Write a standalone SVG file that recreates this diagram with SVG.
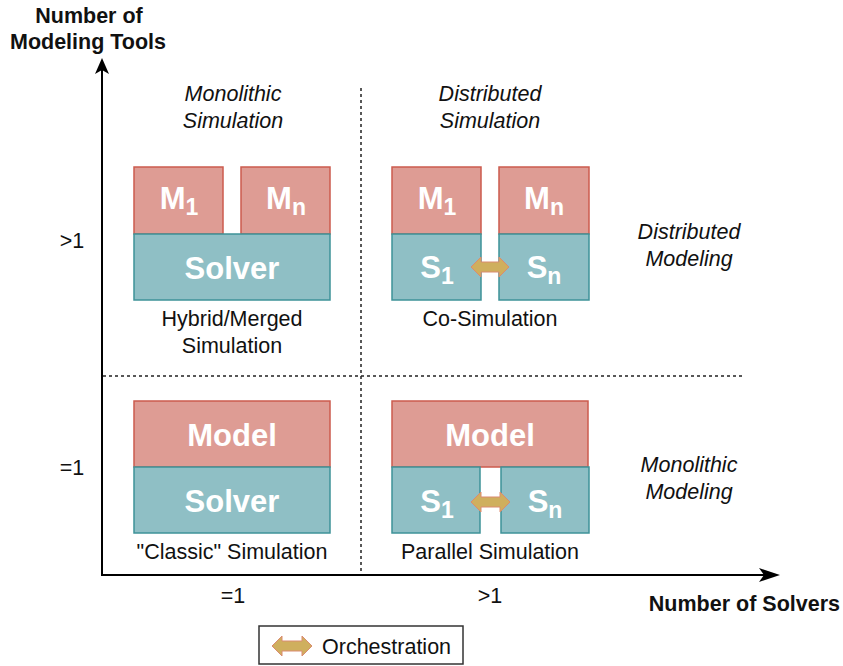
<svg xmlns="http://www.w3.org/2000/svg" width="843" height="666" viewBox="0 0 843 666">
<style>
.m{fill:#DE9C94;stroke:#CC5B4E;stroke-width:1.5}
.s{fill:#8FBFC5;stroke:#3E9298;stroke-width:1.5}
.bt{font-family:"Liberation Sans",Arial,sans-serif;font-weight:bold;font-size:31px;fill:#fff;text-anchor:middle}
.sub{font-size:23px}
.it{font-family:"Liberation Sans",Arial,sans-serif;font-style:italic;font-size:21.5px;fill:#111;text-anchor:middle}
.cap{font-family:"Liberation Sans",Arial,sans-serif;font-size:21.5px;fill:#111;text-anchor:middle}
.ax{font-family:"Liberation Sans",Arial,sans-serif;font-weight:bold;font-size:21.5px;fill:#111;text-anchor:middle}
.orc{fill:#CFAF5E;stroke:#DA8B70;stroke-width:1}
.dot{stroke:#222;stroke-width:1.5;stroke-dasharray:3,3;fill:none}
</style>
<rect width="843" height="666" fill="#fff"/>
<g id="connectors">
<line x1="102" y1="70" x2="102" y2="576" stroke="#000" stroke-width="2"/>
<polygon points="102,58 109,74 102,70 95,74" fill="#000"/>
<line x1="101" y1="575" x2="768" y2="575" stroke="#000" stroke-width="2"/>
<polygon points="780,575 759,582 764,575 759,568" fill="#000"/>
<line class="dot" x1="361" y1="88" x2="361" y2="574"/>
<line class="dot" x1="103" y1="376" x2="745" y2="376"/>
</g>
<g id="axis-labels">
<text class="ax" x="89" y="23">Number of</text>
<text class="ax" x="88" y="49">Modeling Tools</text>
<text class="ax" x="840" y="611" style="text-anchor:end">Number of Solvers</text>
<text class="cap" x="72" y="248">&gt;1</text>
<text class="cap" x="72" y="475">=1</text>
<text class="cap" x="233" y="603">=1</text>
<text class="cap" x="490" y="603">&gt;1</text>
</g>
<g id="region-labels">
<text class="it" x="233" y="101">Monolithic</text>
<text class="it" x="233" y="128">Simulation</text>
<text class="it" x="490" y="101">Distributed</text>
<text class="it" x="490" y="128">Simulation</text>
<text class="it" x="689" y="239">Distributed</text>
<text class="it" x="689" y="266">Modeling</text>
<text class="it" x="689" y="472">Monolithic</text>
<text class="it" x="689" y="499">Modeling</text>
</g>
<g id="hybrid">
<rect class="m" x="134" y="167" width="89" height="67"/>
<rect class="m" x="241" y="167" width="89" height="67"/>
<rect class="s" x="134" y="234" width="196" height="66"/>
<text class="bt" x="179" y="209">M<tspan class="sub" dy="6">1</tspan></text>
<text class="bt" x="286" y="209">M<tspan class="sub" dy="6">n</tspan></text>
<text class="bt" x="232" y="279">Solver</text>
<text class="cap" x="232" y="326">Hybrid/Merged</text>
<text class="cap" x="232" y="353">Simulation</text>
</g>
<g id="cosim">
<rect class="m" x="392" y="167" width="89" height="67"/>
<rect class="m" x="499" y="167" width="90" height="67"/>
<rect class="s" x="392" y="234" width="89" height="66"/>
<rect class="s" x="499" y="234" width="90" height="66"/>
<text class="bt" x="437" y="209">M<tspan class="sub" dy="6">1</tspan></text>
<text class="bt" x="544" y="209">M<tspan class="sub" dy="6">n</tspan></text>
<text class="bt" x="437" y="278">S<tspan class="sub" dy="6">1</tspan></text>
<text class="bt" x="544" y="278">S<tspan class="sub" dy="6">n</tspan></text>
<polygon class="orc" points="471,267 481,257 481,262 499,262 499,257 509,267 499,277 499,272 481,272 481,277"/>
<text class="cap" x="490" y="326">Co-Simulation</text>
</g>
<g id="classic">
<rect class="m" x="134" y="401" width="196" height="66"/>
<rect class="s" x="134" y="467" width="196" height="66"/>
<text class="bt" x="232" y="446">Model</text>
<text class="bt" x="232" y="512">Solver</text>
<text class="cap" x="232" y="559">"Classic" Simulation</text>
</g>
<g id="parallel">
<rect class="m" x="392" y="401" width="196" height="66"/>
<rect class="s" x="392" y="467" width="88" height="66"/>
<rect class="s" x="501" y="467" width="88" height="66"/>
<text class="bt" x="490" y="446">Model</text>
<text class="bt" x="437" y="512">S<tspan class="sub" dy="6">1</tspan></text>
<text class="bt" x="545" y="512">S<tspan class="sub" dy="6">n</tspan></text>
<polygon class="orc" points="471,502 481,492 481,497 500,497 500,492 510,502 500,512 500,507 481,507 481,512"/>
<text class="cap" x="490" y="559">Parallel Simulation</text>
</g>
<g id="legend">
<rect x="259" y="626" width="204" height="38" fill="#fff" stroke="#333" stroke-width="1.5"/>
<polygon class="orc" points="272,646 282,636 282,641 302,641 302,636 312,646 302,656 302,651 282,651 282,656"/>
<text class="cap" x="322" y="654" style="text-anchor:start">Orchestration</text>
</g>
</svg>
